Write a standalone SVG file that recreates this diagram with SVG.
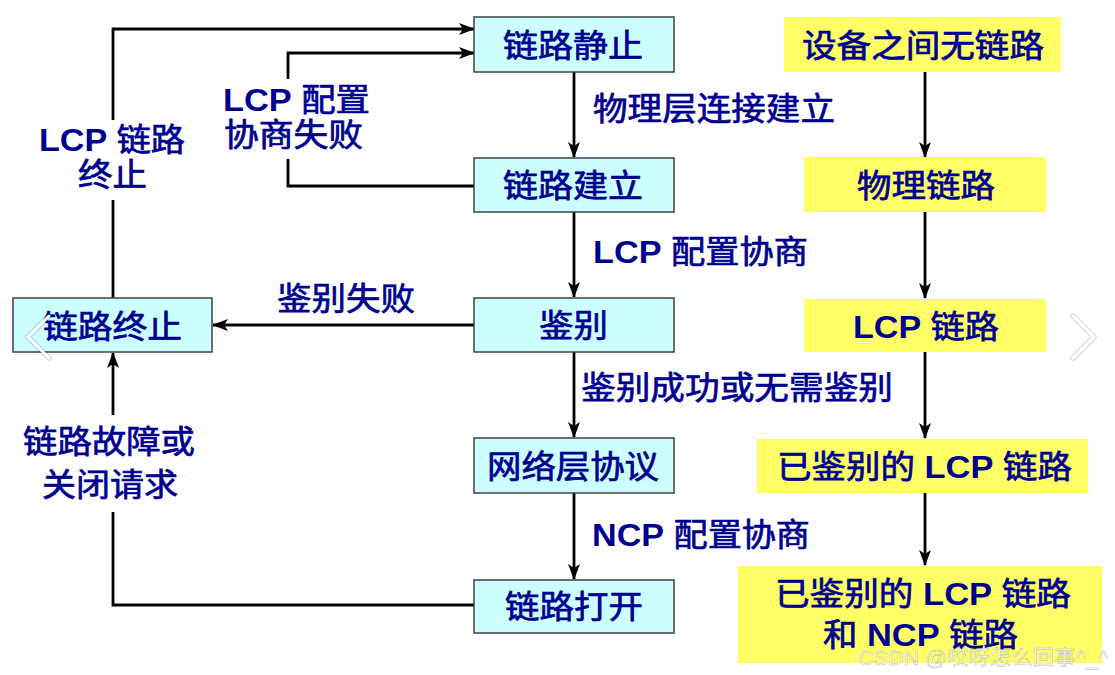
<svg xmlns="http://www.w3.org/2000/svg" width="1115" height="675" viewBox="0 0 1115 675">
<style>
.bc{fill:#CCFFFF;stroke:#404040;stroke-width:1.5}
.by{fill:#FFFF66}
.t{font-family:"Liberation Sans","Noto Sans CJK SC",sans-serif;font-size:32px;fill:#000090;stroke:#000090;stroke-width:0.7}
.l{font-weight:bold;stroke-width:0}
.e{stroke:#000;stroke-width:2.8;fill:none}
.a{marker-end:url(#ah)}
.wm{font-family:"Liberation Sans","Noto Sans CJK SC",sans-serif;font-size:20px;fill:#fff;fill-opacity:0.75;stroke:#999;stroke-width:0.5;stroke-opacity:0.7}
.chev{fill:none;stroke-linecap:round;stroke-linejoin:round}
</style>
<defs>
<marker id="ah" markerUnits="userSpaceOnUse" markerWidth="16" markerHeight="12" refX="15" refY="6" orient="auto">
<path d="M0,0 L16,6 L0,12 L4,6 Z" fill="#000"/>
</marker>
</defs>
<rect width="1115" height="675" fill="#fff"/>

<g id="connectors">
<path class="e a" d="M574,72 V157"/>
<path class="e a" d="M574,212 V297"/>
<path class="e a" d="M574,352 V437"/>
<path class="e a" d="M574,493 V579"/>
<path class="e a" d="M925,72 V157"/>
<path class="e a" d="M925,212 V298"/>
<path class="e a" d="M925,352 V438"/>
<path class="e a" d="M925,493 V565"/>
<path class="e a" d="M474,325 H213"/>
<path class="e" d="M474,605 H113 V512"/>
<path class="e a" d="M113,415 V353"/>
<path class="e" d="M113,298 V200"/>
<path class="e a" d="M113,120 V29 H474"/>
<path class="e" d="M474,186 H288 V159"/>
<path class="e a" d="M288,79 V53 H474"/>
</g>

<g id="labels">
<text class="t" x="39" y="151" textLength="146" lengthAdjust="spacingAndGlyphs"><tspan class="l">LCP</tspan> 链路</text>
<text class="t" x="78" y="186" textLength="69" lengthAdjust="spacingAndGlyphs">终止</text>
<text class="t" x="223" y="111" textLength="147" lengthAdjust="spacingAndGlyphs"><tspan class="l">LCP</tspan> 配置</text>
<text class="t" x="224" y="146" textLength="139" lengthAdjust="spacingAndGlyphs">协商失败</text>
<text class="t" x="593" y="120" textLength="242" lengthAdjust="spacingAndGlyphs">物理层连接建立</text>
<text class="t" x="593" y="263" textLength="215" lengthAdjust="spacingAndGlyphs"><tspan class="l">LCP</tspan> 配置协商</text>
<text class="t" x="277" y="310" textLength="138" lengthAdjust="spacingAndGlyphs">鉴别失败</text>
<text class="t" x="581" y="399" textLength="312" lengthAdjust="spacingAndGlyphs">鉴别成功或无需鉴别</text>
<text class="t" x="592" y="546" textLength="218" lengthAdjust="spacingAndGlyphs"><tspan class="l">NCP</tspan> 配置协商</text>
<text class="t" x="23" y="453" textLength="172" lengthAdjust="spacingAndGlyphs">链路故障或</text>
<text class="t" x="42" y="496" textLength="136" lengthAdjust="spacingAndGlyphs">关闭请求</text>
</g>

<g id="n-quiet">
<rect class="bc" x="474" y="17" width="200" height="55"/>
<text class="t" x="503" y="57" textLength="140" lengthAdjust="spacingAndGlyphs">链路静止</text>
</g>
<g id="n-establish">
<rect class="bc" x="474" y="158" width="200" height="54"/>
<text class="t" x="503" y="197" textLength="140" lengthAdjust="spacingAndGlyphs">链路建立</text>
</g>
<g id="n-auth">
<rect class="bc" x="474" y="298" width="200" height="54"/>
<text class="t" x="539" y="337" textLength="69" lengthAdjust="spacingAndGlyphs">鉴别</text>
</g>
<g id="n-network">
<rect class="bc" x="474" y="438" width="200" height="55"/>
<text class="t" x="487" y="478" textLength="172" lengthAdjust="spacingAndGlyphs">网络层协议</text>
</g>
<g id="n-open">
<rect class="bc" x="474" y="580" width="200" height="53"/>
<text class="t" x="505" y="618" textLength="138" lengthAdjust="spacingAndGlyphs">链路打开</text>
</g>
<g id="n-terminate">
<rect class="bc" x="13" y="298" width="199" height="54"/>
<text class="t" x="43" y="338" textLength="139" lengthAdjust="spacingAndGlyphs">链路终止</text>
</g>

<g id="y-nolink">
<rect class="by" x="784" y="17" width="277" height="55"/>
<text class="t" x="802" y="57" textLength="242" lengthAdjust="spacingAndGlyphs">设备之间无链路</text>
</g>
<g id="y-physical">
<rect class="by" x="804" y="157" width="242" height="55"/>
<text class="t" x="857" y="197" textLength="138" lengthAdjust="spacingAndGlyphs">物理链路</text>
</g>
<g id="y-lcp">
<rect class="by" x="804" y="299" width="242" height="53"/>
<text class="t" x="853" y="338" textLength="146" lengthAdjust="spacingAndGlyphs"><tspan class="l">LCP</tspan> 链路</text>
</g>
<g id="y-authlcp">
<rect class="by" x="757" y="439" width="331" height="54"/>
<text class="t" x="777" y="478" textLength="295" lengthAdjust="spacingAndGlyphs">已鉴别的 <tspan class="l">LCP</tspan> 链路</text>
</g>
<g id="y-authlcpncp">
<rect class="by" x="738" y="566" width="364" height="97"/>
<text class="t" x="775" y="605" textLength="296" lengthAdjust="spacingAndGlyphs">已鉴别的 <tspan class="l">LCP</tspan> 链路</text>
<text class="t" x="823" y="646" textLength="195" lengthAdjust="spacingAndGlyphs">和 <tspan class="l">NCP</tspan> 链路</text>
</g>

<g id="overlay">
<polyline class="chev" points="49,316 28,337 49,358" stroke="#000" stroke-opacity="0.12" stroke-width="6"/>
<polyline class="chev" points="49,316 28,337 49,358" stroke="#fff" stroke-width="3"/>
<polyline class="chev" points="1073,316 1094,337 1073,358" stroke="#000" stroke-opacity="0.12" stroke-width="6"/>
<polyline class="chev" points="1073,316 1094,337 1073,358" stroke="#fff" stroke-width="3"/>
<text class="wm" x="858" y="665" textLength="250" lengthAdjust="spacingAndGlyphs">CSDN @哎呀怎么回事^_^</text>
</g>
</svg>
